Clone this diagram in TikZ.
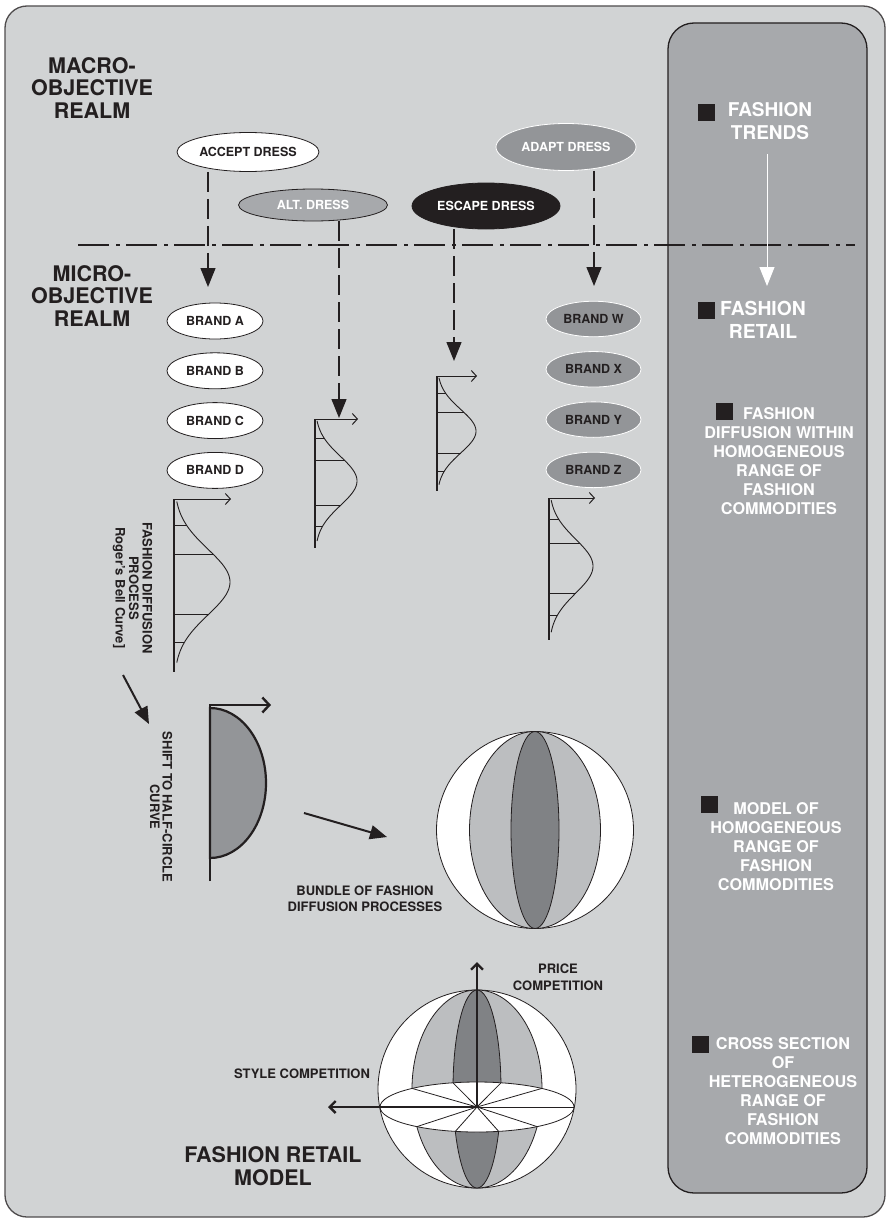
\documentclass[tikz,border=0pt]{standalone}
\usepackage{fontspec}
\setmainfont{TeX Gyre Heros}
\usetikzlibrary{positioning,arrows.meta,shapes.geometric,calc}
\definecolor{sheet}{HTML}{D1D3D4}
\definecolor{panel}{HTML}{A7A9AC}
\definecolor{midgray}{HTML}{939598}
\definecolor{lightgray}{HTML}{BCBEC0}
\definecolor{darkgray}{HTML}{808285}
\definecolor{ink}{HTML}{231F20}
\newcommand{\bxsize}[2]{\fontsize{#1}{#2}\selectfont\bfseries}
\tikzset{
  realm/.style     = {align=center, inner sep=0pt, text=ink, font=\bxsize{21.5}{22.5}},
  lbl/.style       = {align=center, inner sep=0pt, text=ink, font=\bxsize{13}{16}},
  note/.style      = {align=center, inner sep=0pt, text=white, font=\bxsize{16.2}{19}},
  bullet/.style    = {rectangle, fill=ink, minimum size=17pt, inner sep=0pt},
  oval/.style      = {ellipse, inner sep=0pt, line width=0.8pt, font=\bxsize{12.5}{14}},
  dressw/.style    = {oval, draw=ink, fill=white, text=ink},
  dressg/.style    = {oval, draw=ink, fill=panel, text=white},
  dressb/.style    = {oval, draw=ink, fill=ink, text=white},
  dressm/.style    = {oval, draw=white, fill=midgray, text=white},
  brandw/.style    = {oval, draw=ink, fill=white, text=ink, minimum width=96pt, minimum height=36pt},
  brandg/.style    = {oval, draw=white, fill=midgray, text=ink, minimum width=95pt, minimum height=35.5pt},
  dropline/.style  = {line width=1.3pt, draw=ink, dash pattern=on 20pt off 7pt,
                      -{Triangle[length=19pt,width=15pt]}},
  realmline/.style = {line width=2pt, draw=ink, dash pattern=on 31pt off 7pt on 4pt off 6pt},
  bigarrow/.style  = {line width=2pt, draw=ink, -{Triangle[length=17pt,width=14pt]}},
  axisarrow/.style = {line width=2.4pt, draw=ink, -{Straight Barb[length=6pt,width=12pt]}},
  thinline/.style  = {line width=0.8pt, draw=ink},
  pics/bell/.style n args={3}{code={
    \draw[line width=1.1pt, ink] (0,0) -- (0,#1);
    \draw[line width=1pt, ink, -{Straight Barb[length=5pt,width=11pt]}] (0,0) -- (#3,0);
    \draw[line width=0.9pt, ink] plot[domain=-2.45:2.45, samples=60, smooth]
      ({#2*exp(-0.5*(\x)*(\x))}, {0.48*#1+0.19*#1*(\x)});
    \foreach \t in {-1.72,-0.84,1.0,1.84}
      \draw[line width=0.9pt, ink] (0,{0.48*#1+0.19*#1*(\t)}) -- ({#2*exp(-0.5*(\t)*(\t))},{0.48*#1+0.19*#1*(\t)});
  }},
}

\begin{document}
\begin{tikzpicture}[x=1pt, y=-1pt]
  \fill[white] (0,0) rectangle (888,1220);
  \useasboundingbox (0,0) rectangle (888,1220);

  % sheet and side panel
  \draw[line width=1.3pt, draw=ink!80, fill=sheet, rounded corners=22pt] (5,6) rectangle (885,1217);
  \draw[line width=1.3pt, draw=ink, fill=panel, rounded corners=26pt] (668,23) rectangle (867,1193);

  % realms
  \node[realm] (macro) at (92,88) {MACRO-\\OBJECTIVE\\REALM};
  \node[realm] (micro) at (92,296) {MICRO-\\OBJECTIVE\\REALM};
  \coordinate (divL) at (78,245);
  \coordinate (divR) at (855,245);
  \draw[realmline] (divL) -- (divR);

  % dress types
  \node[dressw, minimum width=142pt, minimum height=39pt] (accept) at (248,152) {ACCEPT DRESS};
  \node[dressg, minimum width=149pt, minimum height=32pt] (alt) at (313,205) {ALT. DRESS};
  \node[dressb, minimum width=148pt, minimum height=46pt] (escape) at (486,206) {ESCAPE DRESS};
  \node[dressm, minimum width=140pt, minimum height=47pt] (adapt) at (566,147) {ADAPT DRESS};

  % brands
  \node[brandw] (brandA) at (215,321) {BRAND A};
  \node[brandw, below=13pt of brandA] (brandB) {BRAND B};
  \node[brandw, below=13pt of brandB] (brandC) {BRAND C};
  \node[brandw, below=13pt of brandC] (brandD) {BRAND D};
  \node[brandg] (brandW) at (593.5,319) {BRAND W};
  \node[brandg, below=14pt of brandW] (brandX) {BRAND X};
  \node[brandg, below=14pt of brandX] (brandY) {BRAND Y};
  \node[brandg, below=14pt of brandY] (brandZ) {BRAND Z};

  % bell curves
  \pic (bellA) at (174,499) {bell={173}{56}{57}};
  \pic (bellB) at (315,419) {bell={129}{42}{43}};
  \pic (bellC) at (437,376) {bell={115}{39}{40}};
  \pic (bellD) at (549,498) {bell={142}{44}{46}};

  % drops from macro to micro
  \coordinate (tipA) at (208,287);
  \coordinate (tipB) at (339,418);
  \coordinate (tipC) at (454,361);
  \coordinate (tipD) at (594,286);
  \draw[dropline] (accept.south -| tipA) -- (tipA);
  \draw[dropline] (alt.south -| tipB) -- (tipB);
  \draw[dropline] (escape.south -| tipC) -- (tipC);
  \draw[dropline] (adapt.south -| tipD) -- (tipD);

  % side panel notes
  \node[note, font=\bxsize{19}{23}] (trends) at (770,121.5) {FASHION\\TRENDS};
  \node[bullet] (sqTrends) at (706.5,113) {};
  \node[note, font=\bxsize{19.3}{23}] (retail) at (763,319.5) {FASHION\\RETAIL};
  \node[bullet] (sqRetail) at (706.5,310.5) {};
  \node[note] (within) at (779,461.5) {FASHION\\DIFFUSION WITHIN\\HOMOGENEOUS\\RANGE OF\\FASHION\\COMMODITIES};
  \node[bullet] (sqWithin) at (724.5,411) {};
  \node[note] (homog) at (776,847) {MODEL OF\\HOMOGENEOUS\\RANGE OF\\FASHION\\COMMODITIES};
  \node[bullet] (sqHomog) at (709,804.5) {};
  \node[note] (hetero) at (783,1091) {CROSS SECTION\\OF\\HETEROGENEOUS\\RANGE OF\\FASHION\\COMMODITIES};
  \node[bullet] (sqHetero) at (700.5,1044.5) {};
  \coordinate (trendsEnd) at (767,286);
  \draw[line width=1pt, white, -{Triangle[length=19pt,width=15pt]}] (trends.south -| trendsEnd) ++(0,14) -- (trendsEnd);

  % diffusion process and half circle
  \node[lbl, rotate=-90, font=\bxsize{13}{13.5}] (diffnote) at (132.5,588) {FASHION DIFFUSION\\PROCESS\\Roger's Bell Curve]};
  \node[lbl, rotate=-90, font=\bxsize{13}{12.5}] (shiftnote) at (161,807) {SHIFT TO HALF-CIRCLE\\CURVE};
  \coordinate (shiftA) at (123,675);
  \coordinate (shiftB) at (149,724);
  \draw[bigarrow] (shiftA) -- (shiftB);
  \filldraw[line width=2.2pt, draw=ink, fill=midgray] (210,708) arc[start angle=-90, end angle=90, x radius=56, y radius=75] -- cycle;
  \draw[line width=2.4pt, ink, -{Straight Barb[length=7pt,width=15pt]}] (210,881) -- (210,705) -- (271,705);
  \coordinate (bundleA) at (304,813);
  \coordinate (bundleB) at (387,837);
  \draw[bigarrow] (bundleA) -- (bundleB);

  % bundle sphere
  \coordinate (bundle) at (535,830);
  \filldraw[thinline, fill=white] (bundle) circle[radius=98.5];
  \filldraw[thinline, fill=lightgray] (bundle) ellipse[x radius=65.5, y radius=98.5];
  \filldraw[thinline, fill=darkgray] (bundle) ellipse[x radius=24, y radius=98.5];
  \node[lbl] (bundlelbl) at (365,899) {BUNDLE OF FASHION\\DIFFUSION PROCESSES};

  % retail model sphere
  \coordinate (globe) at (477,1089);
  \coordinate (origin) at (477,1107);
  \filldraw[thinline, fill=white] (globe) circle[radius=99];
  \filldraw[thinline, fill=lightgray] (globe) ellipse[x radius=65, y radius=99];
  \filldraw[thinline, fill=darkgray] (globe) ellipse[x radius=24, y radius=99];
  \filldraw[thinline, fill=white] (origin) ellipse[x radius=97, y radius=25];
  \foreach \dx/\dy in {-64.9/-18.6, -24/-24.2, 24/-24.2, 64.9/-18.6, 97/0,
                       60.1/19.6, 21.7/24.4, -21.7/24.4, -60.1/19.6}
    \draw[thinline] (origin) -- ++(\dx,\dy);
  \coordinate (priceEnd) at (477,962);
  \coordinate (styleEnd) at (328,1107);
  \draw[axisarrow] (origin) -- (priceEnd);
  \draw[axisarrow] (origin) -- (styleEnd);
  \node[lbl, font=\bxsize{13}{17}] (price) at (558,977.5) {PRICE\\COMPETITION};
  \node[lbl] (style) at (302,1074) {STYLE COMPETITION};
  \node[realm] (model) at (273,1166) {FASHION RETAIL\\MODEL};
\end{tikzpicture}
\end{document}
